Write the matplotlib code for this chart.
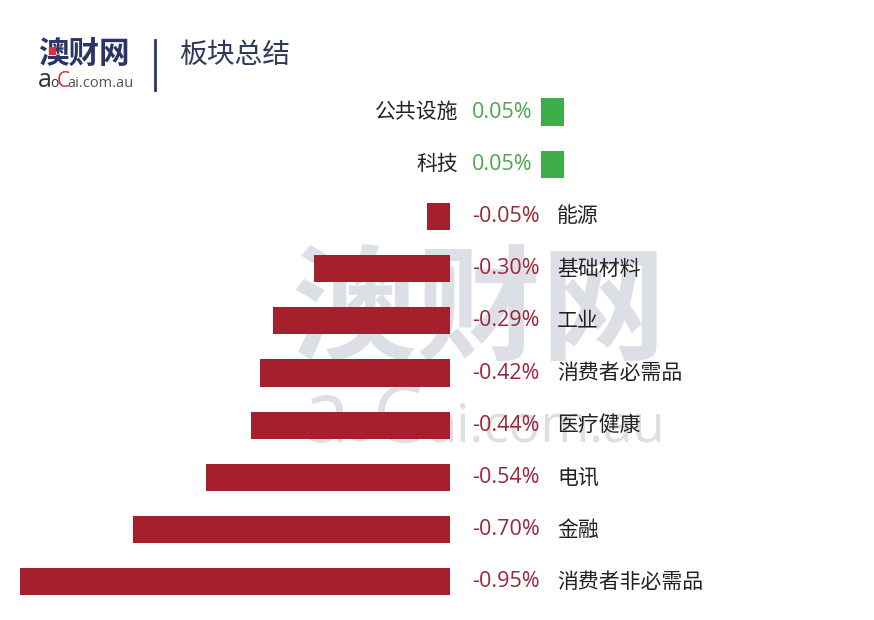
import matplotlib
matplotlib.use("Agg")
import matplotlib.pyplot as plt
from matplotlib.patches import Rectangle

plt.rcParams['font.family'] = ['Noto Sans CJK SC', 'DejaVu Sans']

categories = ["公共设施", "科技", "能源", "基础材料", "工业", "消费者必需品",
              "医疗健康", "电讯", "金融", "消费者非必需品"]
bar_values = [0.05, 0.05, -0.05, -0.30, -0.39, -0.42, -0.44, -0.54, -0.70, -0.95]
value_labels = ["0.05%", "0.05%", "-0.05%", "-0.30%", "-0.29%", "-0.42%",
                "-0.44%", "-0.54%", "-0.70%", "-0.95%"]
title = "板块总结"

RED = "#A51F2C"
RED_TXT = "#9A2738"
GREEN = "#3DAE4A"
GREEN_TXT = "#4EA54F"
NAVY = "#2B3467"
WM = "#DCDFE6"
LATIN = ['Open Sans', 'DejaVu Sans']

W, H = 874, 620
fig = plt.figure(figsize=(W / 100, H / 100), dpi=100)
ax = fig.add_axes([0, 0, 1, 1])
px_per_unit = 452.6
zero_px = 450
row0_px, row_step = 112, 52.2
ax.set_xlim(-zero_px / px_per_unit, (W - zero_px) / px_per_unit)
ax.set_ylim((H - row0_px) / row_step, -row0_px / row_step)
ax.axis("off")

ft = fig.transFigure
# watermark (behind bars)
ax.text(479 / W, 1 - 313 / H, "澳财网", fontsize=90, fontweight="bold",
        color=WM, ha="center", va="center", zorder=1,
        transform=ft, family=['Noto Sans CJK SC'])
wm_base = 1 - 442 / H
ax.text(302 / W, wm_base, "a", fontsize=62, color=WM, ha="left",
        va="baseline", zorder=1, transform=ft, family=LATIN)
ax.text(343 / W, wm_base, "o", fontsize=38, color=WM, ha="left",
        va="baseline", zorder=1, transform=ft, family=LATIN)
ax.text(372 / W, wm_base, "C", fontsize=57, color=WM, ha="left",
        va="baseline", zorder=1, transform=ft, family=LATIN)
ax.text(428 / W, wm_base, "ai.com.au", fontsize=38, color=WM, ha="left",
        va="baseline", zorder=1, transform=ft, family=LATIN)

pos_offset = 91 / px_per_unit  # gap for positive bars after labels
lab_gap = 22 / px_per_unit
name_gap_neg = 107 / px_per_unit
name_edge_pos = 8 / px_per_unit
bar_h = 0.52

for i, (cat, v, lab) in enumerate(zip(categories, bar_values, value_labels)):
    if v >= 0:
        ax.barh(i, v, left=pos_offset, height=bar_h, color=GREEN, zorder=2)
        ax.text(lab_gap, i, lab, color=GREEN_TXT, fontsize=15.5, ha="left",
                va="center", family=LATIN, zorder=3)
        ax.text(name_edge_pos, i, cat, color="#222222", fontsize=15, ha="right",
                va="center", zorder=3)
    else:
        ax.barh(i, v, height=bar_h, color=RED, zorder=2)
        ax.text(lab_gap, i, lab, color=RED_TXT, fontsize=15.5, ha="left",
                va="center", family=LATIN, zorder=3)
        ax.text(name_gap_neg, i, cat, color="#222222", fontsize=15, ha="left",
                va="center", zorder=3)

# logo
fig.text(38 / W, 1 - 54 / H, "澳财网", fontsize=22, fontweight="bold",
         color=NAVY, ha="left", va="center")
fig.patches.append(Rectangle((49 / W, 1 - 54 / H), 6 / W, 7 / H,
                             transform=ft, color="#D8323C", zorder=5))
logo_base = 1 - 87 / H
fig.text(38 / W, logo_base, "a", fontsize=18, color="#333333", ha="left",
         va="baseline", family=LATIN)
fig.text(50 / W, logo_base, "o", fontsize=10, color="#333333", ha="left",
         va="baseline", family=LATIN)
fig.text(57 / W, logo_base, "C", fontsize=15, color="#D8323C", ha="left",
         va="baseline", family=LATIN)
fig.text(67 / W, logo_base, "ai.com.au", fontsize=10.5, color="#555555",
         ha="left", va="baseline", family=LATIN)
fig.lines.append(plt.Line2D([155 / W, 155 / W], [1 - 40 / H, 1 - 90 / H],
                            transform=ft, color=NAVY, lw=2))
fig.text(179 / W, 1 - 55 / H, title, fontsize=20, color="#2E3A59",
         ha="left", va="center")

fig.savefig("out.png", dpi=100, facecolor="white")
